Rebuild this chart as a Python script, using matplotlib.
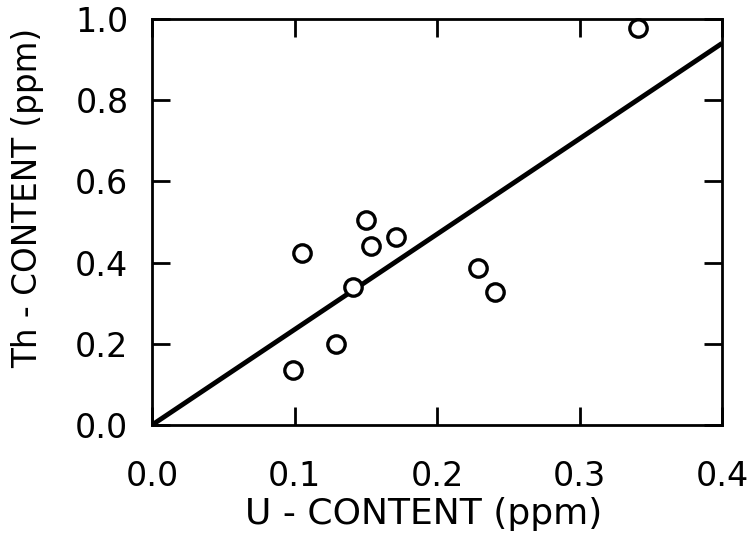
import numpy as np
import matplotlib
matplotlib.use("Agg")
import matplotlib.pyplot as plt

# U vs Th content (ppm)
u_content = [0.341, 0.105, 0.150, 0.154, 0.171, 0.141, 0.129, 0.099, 0.229, 0.241]
th_content = [0.978, 0.424, 0.505, 0.441, 0.464, 0.341, 0.199, 0.135, 0.386, 0.327]

fit_x = [0.0, 0.4]
fit_y = [0.0, 0.94]

x_ticks = [0.0, 0.1, 0.2, 0.3, 0.4]
y_ticks = [0.0, 0.2, 0.4, 0.6, 0.8, 1.0]

plt.rcParams['font.family'] = ['DejaVu Sans']

fig = plt.figure(figsize=(7.51, 5.48), dpi=100)
ax = fig.add_axes([152 / 751, 1 - 425 / 548, 570 / 751, 406 / 548])

ax.plot(fit_x, fit_y, color='black', lw=3.5, solid_capstyle='butt', zorder=2)
ax.plot(u_content, th_content, 'o', ms=12.5, mfc='white', mec='black', mew=2.4,
        zorder=3, clip_on=False)

ax.set_xlim(0, 0.4)
ax.set_ylim(0, 1.0)
ax.set_xticks(x_ticks)
ax.set_yticks(y_ticks)
ax.set_xticklabels(["%.1f" % v for v in x_ticks])
ax.set_yticklabels(["%.1f" % v for v in y_ticks])

ax.tick_params(direction='in', length=13, width=2, labelsize=24,
               top=True, right=True)
ax.tick_params(axis='x', pad=25)
ax.tick_params(axis='y', pad=17)
for s in ax.spines.values():
    s.set_linewidth(2)

ax.set_xlabel("U - CONTENT (ppm)", fontsize=26)
ax.set_ylabel("Th - CONTENT (ppm)", fontsize=23.5, va='center')
ax.xaxis.set_label_coords(0.477, -0.178)
ax.yaxis.set_label_coords((28 - 152) / 570, (425 - 198) / 406)

fig.savefig("out.png", dpi=100)
